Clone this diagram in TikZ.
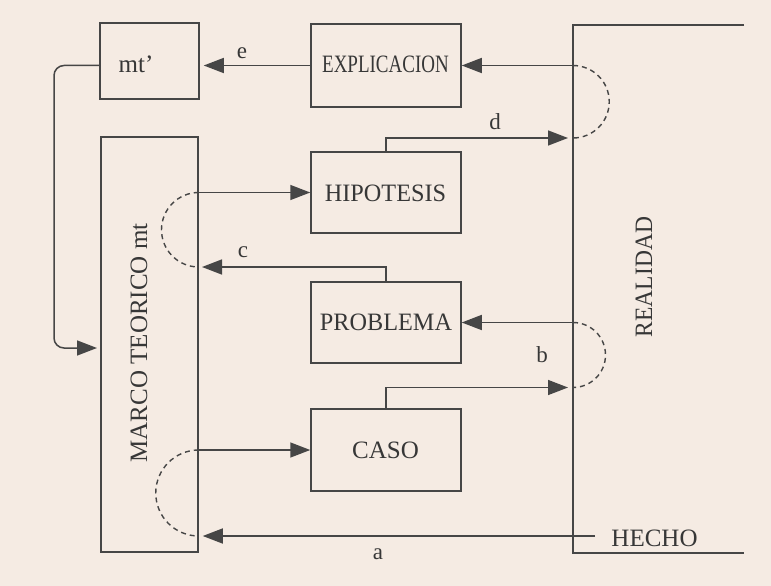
\documentclass[tikz,border=0pt]{standalone}
\usepackage{fontspec}
\setmainfont{Liberation Serif}
\usetikzlibrary{arrows.meta,calc}
\definecolor{bg}{RGB}{245,235,227}
\definecolor{ink}{RGB}{70,70,70}
\definecolor{tink}{RGB}{55,55,55}
\begin{document}
\begin{tikzpicture}[x=1pt,y=-1pt,
  box/.style={draw=ink,line width=1.5pt,rectangle,inner sep=0pt},
  txt/.style={text=tink,font=\fontsize{25}{30}\selectfont,inner sep=0pt,anchor=base},
  lbl/.style={text=tink,font=\fontsize{23}{27}\selectfont,inner sep=0pt,anchor=base},
  conn/.style={draw=ink,line width=1.5pt},
  arr/.style={conn,-{Triangle[length=20pt,width=15pt]}},
  dsh/.style={draw=ink,line width=1.4pt,dash pattern=on 5pt off 4pt}]
\fill[bg] (0,0) rectangle (771,586);
\useasboundingbox (0,0) rectangle (771,586);

% boxes
\node[box,minimum width=99pt,minimum height=76pt] (mtp) at (149.5,61) {};
\node[box,minimum width=150pt,minimum height=83pt] (expl) at (386,65.5) {};
\node[box,minimum width=150pt,minimum height=81pt] (hip) at (386,192.5) {};
\node[box,minimum width=150pt,minimum height=81pt] (prob) at (386,322.5) {};
\node[box,minimum width=150pt,minimum height=82pt] (caso) at (386,450) {};
\node[box,minimum width=97pt,minimum height=415pt] (marco) at (149.5,344.5) {};

% texts
\node[txt] (mtptxt) at (136,73) {mt’};
\node[txt] (expltxt) at (385.5,73) {\scalebox{0.76}[1]{EXPLICACION}};
\node[txt] (hiptxt) at (385.5,201) {\scalebox{0.97}[1]{HIPOTESIS}};
\node[txt] (probtxt) at (386,330) {\scalebox{0.97}[1]{PROBLEMA}};
\node[txt] (casotxt) at (385.5,458) {CASO};
\node[txt] (hecho) at (654.5,546) {HECHO};
\node[txt,rotate=90] (marcotxt) at (147,343) {MARCO TEORICO mt};
\node[txt,rotate=90] (realtxt) at (652,277) {\scalebox{0.94}[1]{REALIDAD}};

% labels
\node[lbl] (le) at (242,59) {e};
\node[lbl] (ld) at (495,129) {d};
\node[lbl] (lc) at (243,257) {c};
\node[lbl] (lb) at (542,362) {b};
\node[lbl] (la) at (378,559) {a};

% realidad frame
\coordinate (rt) at (573,25);
\coordinate (rb) at (573,553);
\coordinate (rtr) at (744,25);
\coordinate (rbr) at (744,553);
\draw[conn] (rtr) -- (rt) -- (rb) -- (rbr);

% connector endpoints
\coordinate (mtin) at (100,348);
\coordinate (dend) at (573,138);
\coordinate (cend) at (198,267);
\coordinate (bend) at (573,387.5);
\coordinate (astart) at (595,536);

% connectors
\draw[arr] (rt |- expl.east) -- (expl.east);
\draw[arr,shorten >=4pt] (expl.west) -- (expl.west -| mtp.east);
\draw[arr,rounded corners=10pt,shorten >=3pt] (mtp.west |- expl.west) -| ($(mtin)+(-46,0)$) -- (mtin);
\draw[arr,shorten >=5pt] (hip.north) |- (dend);
\draw[arr] (marco.east |- hip.west) -- (hip.west);
\draw[arr,shorten >=4pt] (prob.north) |- (cend);
\draw[arr] (rt |- prob.east) -- (prob.east);
\draw[arr,shorten >=5pt] (caso.north) |- (bend);
\draw[arr] (marco.east |- caso.west) -- (caso.west);
\draw[arr,shorten >=4pt] (astart) -- (marco.east |- astart);

% dashed arcs
\draw[dsh] (rt |- expl.east) arc[start angle=-90,end angle=90,radius=36.25];
\draw[dsh] (marco.east |- hip.west) arc[start angle=270,end angle=90,radius=37.25];
\draw[dsh] (rt |- prob.east) arc[start angle=-90,end angle=90,radius=32.5];
\draw[dsh] (marco.east |- caso.west) arc[start angle=270,end angle=90,radius=43];
\end{tikzpicture}
\end{document}
